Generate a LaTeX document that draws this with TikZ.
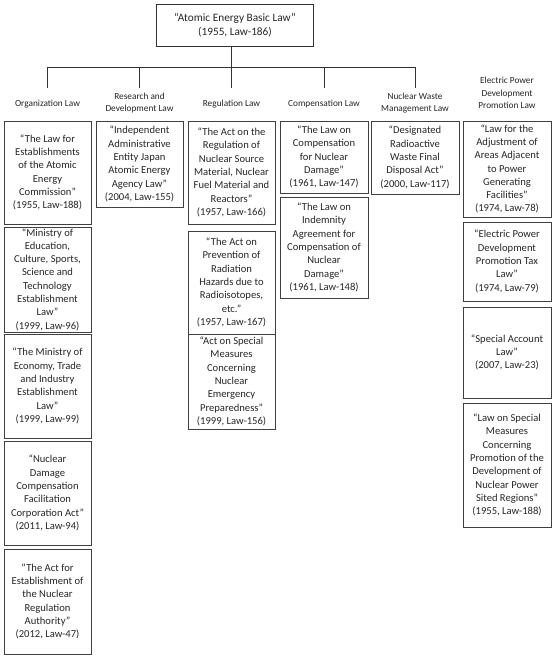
\documentclass[tikz,border=0pt]{standalone}
\usepackage{fontspec}
\setmainfont{Carlito}
\tikzset{
  lawbox/.style={draw=black!75, line width=0.8pt, align=center, inner sep=0pt,
    font=\fontsize{10.6}{13.3}\selectfont, text=black!85},
  topbox/.style={draw=black!80, line width=0.9pt, align=center, inner sep=0pt,
    font=\fontsize{11.3}{13.5}\selectfont, text=black!85},
  hdr/.style={align=center, inner sep=0pt, font=\fontsize{9.3}{12.4}\selectfont, text=black!85},
  conn/.style={draw=black!80, line width=0.8pt},
}
\newcommand\lawbx[6]{\node[lawbox, minimum width={#4-#2}, minimum height={#5-#3}] (#1) at ({(#2+#4)/2},{(#3+#5)/2}) {#6};}
\begin{document}
\begin{tikzpicture}[x=1pt,y=-1pt]
\useasboundingbox (0,0) rectangle (554,656);
% top box
\node[topbox, minimum width=157, minimum height=42] (top) at (235,25) {“Atomic Energy Basic Law”\\(1955, Law-186)};
% bus coordinates
\coordinate (j1) at (47.5,67); \coordinate (e1) at (47.5,88);
\coordinate (j2) at (139.5,67); \coordinate (e2) at (139.5,88);
\coordinate (j3) at (231.5,67); \coordinate (e3) at (231.5,88);
\coordinate (j4) at (324,67); \coordinate (e4) at (324,88);
\coordinate (j5) at (415,67); \coordinate (e5) at (415,88);
\draw[conn] (j3 |- top.south) -- (e3);
\draw[conn] (j1) -- (j5);
\draw[conn] (j1) -- (e1);
\draw[conn] (j2) -- (e2);
\draw[conn] (j4) -- (e4);
\draw[conn] (j5) -- (e5);
% headers
\node[hdr] (h1) at (47.5,104) {Organization Law};
\node[hdr] (h2) at (139.5,103) {Research and\\Development Law};
\node[hdr] (h3) at (231.5,104) {Regulation Law};
\node[hdr] (h4) at (324,104) {Compensation Law};
\node[hdr] (h5) at (415,103) {Nuclear Waste\\Management Law};
\node[hdr] (h6) at (507,93) {Electric Power\\Development\\Promotion Law};
% column 1
\lawbx{a1}{4}{121}{91}{224}{“The Law for\\Establishments\\of the Atomic\\Energy\\Commission”\\(1955, Law-188)}
\lawbx{a2}{4}{227}{91}{332}{“Ministry of\\Education,\\Culture, Sports,\\Science and\\Technology\\Establishment\\Law”\\(1999, Law-96)}
\lawbx{a3}{4}{334}{91}{438}{“The Ministry of\\Economy, Trade\\and Industry\\Establishment\\Law”\\(1999, Law-99)}
\lawbx{a4}{4}{441}{91}{545}{“Nuclear\\Damage\\Compensation\\Facilitation\\Corporation Act”\\(2011, Law-94)}
\lawbx{a5}{4}{549}{91}{654}{“The Act for\\Establishment of\\the Nuclear\\Regulation\\Authority”\\(2012, Law-47)}
% column 2
\lawbx{b1}{96}{121}{183}{207}{“Independent\\Administrative\\Entity Japan\\Atomic Energy\\Agency Law”\\(2004, Law-155)}
% column 3
\lawbx{c1}{188}{121}{275}{224}{“The Act on the\\Regulation of\\Nuclear Source\\Material, Nuclear\\Fuel Material and\\Reactors”\\(1957, Law-166)}
\lawbx{c2}{188}{231}{275}{334}{“The Act on\\Prevention of\\Radiation\\Hazards due to\\Radioisotopes,\\etc.”\\(1957, Law-167)}
\lawbx{c3}{188}{334}{275}{429}{“Act on Special\\Measures\\Concerning\\Nuclear\\Emergency\\Preparedness”\\(1999, Law-156)}
% column 4
\lawbx{d1}{280}{121}{368}{193}{“The Law on\\Compensation\\for Nuclear\\Damage”\\(1961, Law-147)}
\lawbx{d2}{280}{197}{368}{298}{“The Law on\\Indemnity\\Agreement for\\Compensation of\\Nuclear\\Damage”\\(1961, Law-148)}
% column 5
\lawbx{f1}{371}{121}{459}{194}{“Designated\\Radioactive\\Waste Final\\Disposal Act”\\(2000, Law-117)}
% column 6
\lawbx{g1}{463}{121}{551}{217}{“Law for the\\Adjustment of\\Areas Adjacent\\to Power\\Generating\\Facilities”\\(1974, Law-78)}
\lawbx{g2}{463}{222}{551}{301}{“Electric Power\\Development\\Promotion Tax\\Law”\\(1974, Law-79)}
\lawbx{g3}{463}{307}{551}{398}{“Special Account\\Law”\\(2007, Law-23)}
\lawbx{g4}{463}{403}{551}{527}{“Law on Special\\Measures\\Concerning\\Promotion of the\\Development of\\Nuclear Power\\Sited Regions”\\(1955, Law-188)}
\end{tikzpicture}
\end{document}
